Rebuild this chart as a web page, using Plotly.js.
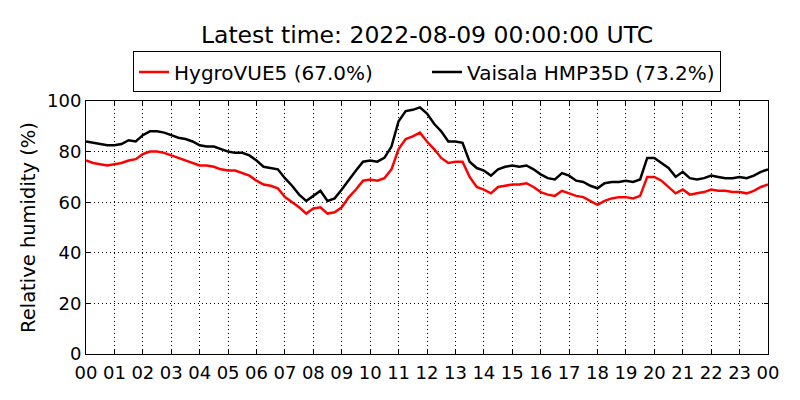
<!DOCTYPE html>
<html>
<head>
<meta charset="utf-8">
<script src="https://cdn.plot.ly/plotly-3.0.1.min.js"></script>
<style>
  html, body { margin: 0; padding: 0; background: #fff; }
  #chart { width: 800px; height: 400px; }
</style>
</head>
<body>
<div id="chart"></div>
<script>
'use strict';

// Readings every 15 minutes, 2022-08-08 00:00 .. 2022-08-09 00:00 UTC
const startTime = '2022-08-08T00:00:00Z';
const stepMinutes = 15;

const hygroVue5 = [
    76.5, 75.5, 75.0, 74.5, 75.0, 75.5, 76.5, 77.0,   // 00-01
    79.0, 80.0, 80.0, 79.5, 78.5, 77.5, 76.5, 75.5,   // 02-03
    74.5, 74.5, 74.0, 73.0, 72.5, 72.5, 71.5, 70.5,   // 04-05
    68.5, 67.0, 66.5, 65.5, 62.0, 60.0, 58.0, 55.5,   // 06-07
    57.5, 58.0, 55.5, 56.0, 58.0, 62.0, 65.0, 68.5,   // 08-09
    69.0, 68.5, 69.5, 73.0, 81.0, 85.0, 86.0, 87.5,   // 10-11
    84.0, 81.0, 77.5, 75.5, 76.0, 76.0, 70.0, 66.0,   // 12-13
    65.0, 63.5, 66.0, 66.5, 67.0, 67.0, 67.5, 66.0,   // 14-15
    64.0, 63.0, 62.5, 64.5, 63.5, 62.5, 62.0, 60.5,   // 16-17
    59.0, 60.5, 61.5, 62.0, 62.0, 61.5, 62.5, 70.0,   // 18-19
    70.0, 68.5, 66.0, 63.5, 65.0, 63.0, 63.5, 64.0,   // 20-21
    65.0, 64.5, 64.5, 64.0, 64.0, 63.5, 64.5, 66.0,   // 22-23
    67.0
];

const vaisalaHmp35d = [
    84.0, 83.5, 83.0, 82.5, 82.5, 83.0, 84.5, 84.0,
    86.5, 88.0, 88.0, 87.5, 86.5, 85.5, 85.0, 84.0,
    82.5, 82.0, 82.0, 81.0, 80.0, 79.5, 79.5, 78.5,
    76.5, 74.0, 73.5, 73.0, 69.5, 66.5, 63.0, 60.5,
    62.5, 64.5, 60.5, 61.5, 65.0, 69.0, 72.5, 76.0,
    76.5, 76.0, 77.5, 82.0, 92.0, 96.0, 96.5, 97.5,
    95.0, 91.0, 88.0, 84.0, 84.0, 83.5, 76.0, 73.5,
    72.5, 70.5, 73.0, 74.0, 74.5, 74.0, 74.5, 73.0,
    71.0, 69.5, 69.0, 71.5, 70.5, 68.5, 68.0, 66.5,
    65.5, 67.5, 68.0, 68.0, 68.5, 68.0, 69.0, 77.5,
    77.5, 75.5, 73.5, 70.0, 72.0, 69.5, 69.0, 69.5,
    70.5, 70.0, 69.5, 69.5, 70.0, 69.5, 70.5, 72.0,
    73.0
];

const seriesNames = ['HygroVUE5 (67.0%)', 'Vaisala HMP35D (73.2%)'];
const seriesColors = ['#ff0000', '#000000'];
const titleText = 'Latest time: 2022-08-09 00:00:00 UTC';

const t0 = Date.parse(startTime);
const times = hygroVue5.map((_, i) => new Date(t0 + i * stepMinutes * 60000).toISOString());

const FONT = 'DejaVu Sans, sans-serif';

const traces = [hygroVue5, vaisalaHmp35d].map((y, k) => ({
    x: times, y, type: 'scatter', mode: 'lines',
    name: seriesNames[k],
    line: { color: seriesColors[k], width: 2.5 },
}));

const axisCommon = {
    showline: true, linecolor: '#000', linewidth: 1, mirror: 'ticks',
    ticks: 'inside', ticklen: 4, tickcolor: '#000',
    showgrid: true, gridcolor: '#000', gridwidth: 1, griddash: '1px,3px',
    zeroline: false,
    tickfont: { family: FONT, size: 18, color: '#000' },
};

const layout = {
    width: 800, height: 400,
    paper_bgcolor: '#fff', plot_bgcolor: '#fff',
    margin: { l: 86, r: 32, t: 101, b: 46 },
    font: { family: FONT, color: '#000' },
    title: {
        text: titleText, font: { family: FONT, size: 23.5, color: '#000' },
        x: 0.5, xref: 'paper', xanchor: 'center',
        y: 1 - 35 / 400, yref: 'container', yanchor: 'middle',
    },
    showlegend: true,
    legend: {
        orientation: 'h', x: 0.5, xanchor: 'center', y: 1.115, yanchor: 'middle',
        bordercolor: '#000', borderwidth: 1, bgcolor: '#fff',
        entrywidth: 248, entrywidthmode: 'pixels',
        font: { family: FONT, size: 20, color: '#000' },
    },
    xaxis: Object.assign({}, axisCommon, {
        type: 'date',
        range: ['2022-08-08 00:00:00', '2022-08-09 00:00:00'],
        dtick: 3600000, tick0: '2022-08-08 00:00:00', tickformat: '%H',
        ticklabelstandoff: 2,
    }),
    yaxis: Object.assign({}, axisCommon, {
        range: [0, 100], dtick: 20,
        title: { text: 'Relative humidity (%)', font: { family: FONT, size: 19.5, color: '#000' }, standoff: 6 },
    }),
};

Plotly.newPlot('chart', traces, layout, { displayModeBar: false, staticPlot: true });
</script>
</body>
</html>
